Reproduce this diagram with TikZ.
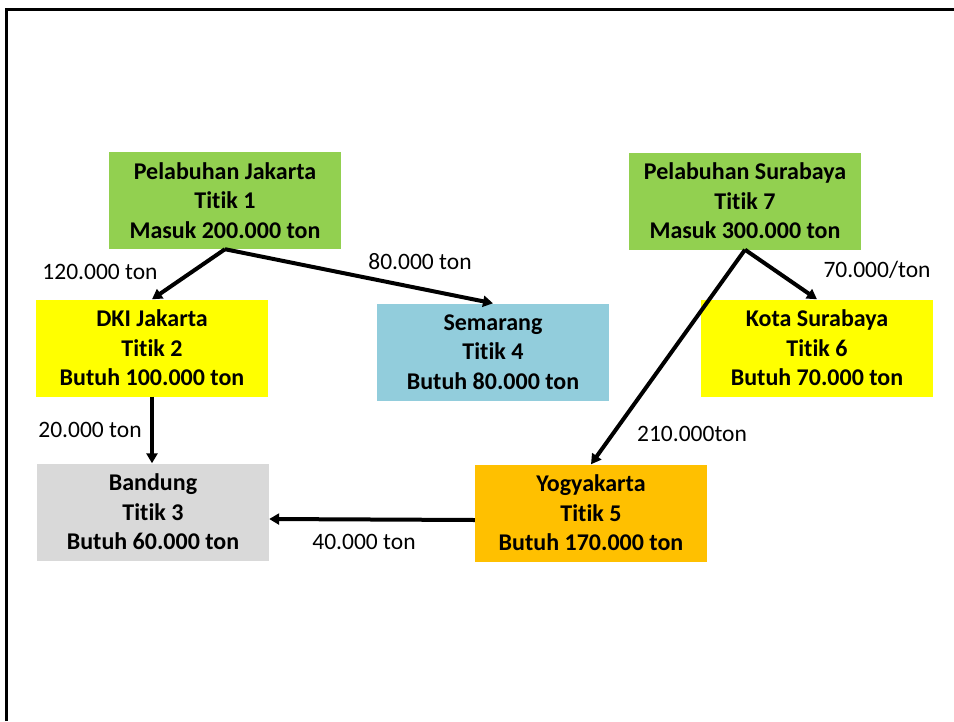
\documentclass[tikz,border=0pt]{standalone}
\usepackage{fontspec}
\setmainfont{Carlito}[Ligatures={NoCommon}]
\usetikzlibrary{arrows.meta}
\definecolor{cgreen}{HTML}{92D050}
\definecolor{cyellow}{HTML}{FFFF00}
\definecolor{cgrey}{HTML}{D9D9D9}
\definecolor{cblue}{HTML}{92CDDC}
\definecolor{corange}{HTML}{FFC000}
\begin{document}
\begin{tikzpicture}[x=1pt,y=-1pt,
  box/.style={minimum width=232pt, minimum height=97pt, inner sep=0pt, align=center, font=\bfseries\fontsize{24}{29.5}\selectfont},
  lbl/.style={inner sep=0pt, font=\fontsize{23.5}{28}\selectfont},
  arr/.style={line width=4pt, -{Triangle[length=10pt,width=11pt]}}]
\useasboundingbox (0,0) rectangle (954,721);
\draw[line width=3pt, line join=miter] (6.5,721) -- (6.5,9.5) -- (954,9.5);

\node[box, fill=cgreen] (p1) at (225,200.5) {Pelabuhan Jakarta\\Titik 1\\Masuk 200.000 ton};
\node[box, fill=cyellow] (t2) at (152,348) {DKI Jakarta\\Titik 2\\Butuh 100.000 ton};
\node[box, fill=cgrey] (t3) at (153,512) {Bandung\\Titik 3\\Butuh 60.000 ton};
\node[box, fill=cblue] (t4) at (493,352) {Semarang\\Titik 4\\Butuh 80.000 ton};
\node[box, fill=corange] (t5) at (591,513) {Yogyakarta\\Titik 5\\Butuh 170.000 ton};
\node[box, fill=cyellow] (t6) at (817,348) {Kota Surabaya\\Titik 6\\Butuh 70.000 ton};
\node[box, fill=cgreen] (p7) at (745,201) {Pelabuhan Surabaya\\Titik 7\\Masuk 300.000 ton};

\draw[arr] (p1.south) -- (t2.north);
\draw[arr] (p1.south) -- (t4.north);
\draw[arr] (p7.south) -- (t6.north);
\draw[arr] (p7.south) -- (t5.north);
\draw[arr] (t2.south) -- (t2.south |- t3.north);
\draw[arr] ([yshift=-7pt]t5.west) -- ([yshift=-7pt]t3.east);

\node[lbl] (l12) at (100,272) {120.000 ton};
\node[lbl] (l14) at (420,262) {80.000 ton};
\node[lbl] (l76) at (877,270) {70.000/ton};
\node[lbl] (l23) at (90,430) {20.000 ton};
\node[lbl] (l75) at (692,434) {210.000ton};
\node[lbl] (l53) at (364,542) {40.000 ton};
\end{tikzpicture}
\end{document}
